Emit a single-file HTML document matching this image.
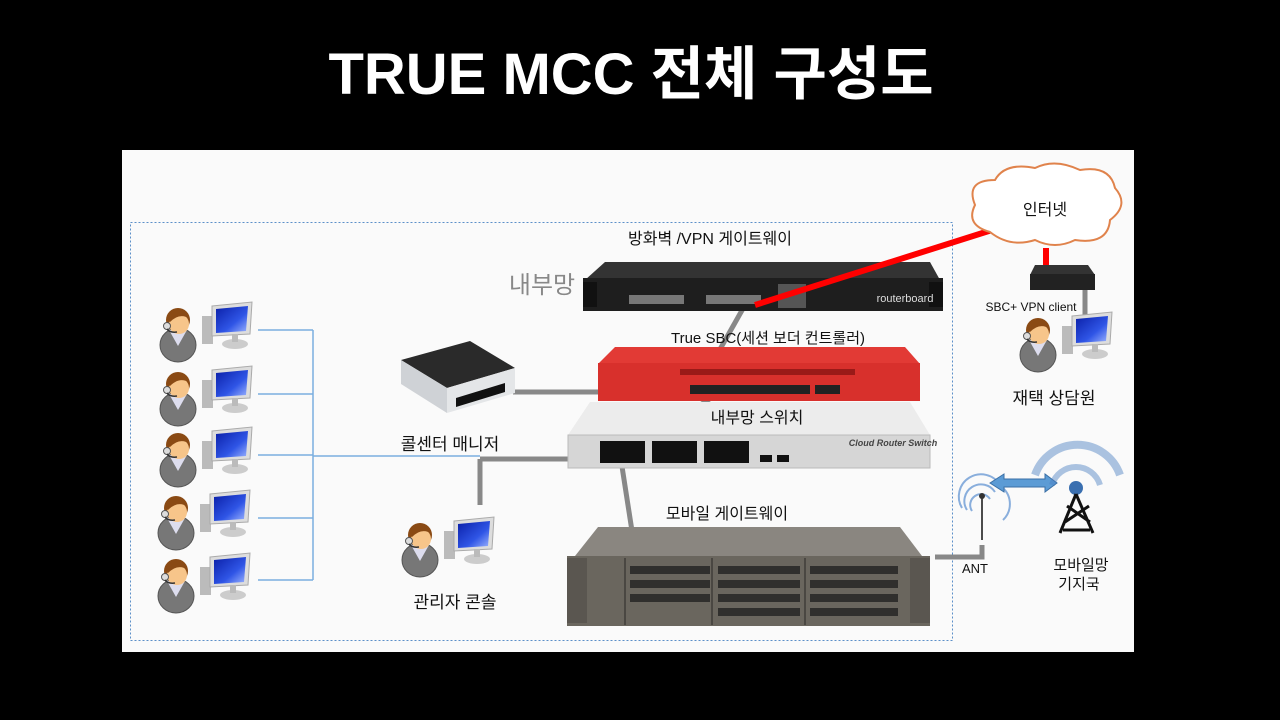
<!DOCTYPE html>
<html><head><meta charset="utf-8"><style>
html,body{margin:0;padding:0;background:#000;width:1280px;height:720px;overflow:hidden}
svg{display:block}
text{font-family:"Liberation Sans","Noto Sans CJK KR",sans-serif}
</style></head><body>
<svg width="1280" height="720" viewBox="0 0 1280 720" xmlns="http://www.w3.org/2000/svg">
<defs>
<linearGradient id="scr" x1="0" y1="0" x2="1" y2="1"><stop offset="0" stop-color="#0a1fa8"/><stop offset="0.6" stop-color="#2f55e6"/><stop offset="1" stop-color="#9fb6ff"/></linearGradient>
<g id="agent">
 <ellipse cx="18" cy="35" rx="18" ry="17" fill="#777" stroke="#555"/>
 <path d="M9 20 L18 36 L27 20 Z" fill="#dde" />
 <circle cx="18" cy="10" r="12" fill="#8a4a14"/>
 <ellipse cx="19" cy="14" rx="10" ry="10" fill="#f7c58a"/>
 <path d="M7 10 Q18 -5 30 9 Q20 2 10 12Z" fill="#8a4a14"/>
 <circle cx="7" cy="16" r="3.5" fill="#ddd" stroke="#555"/>
 <path d="M7 19 Q10 23 17 22" stroke="#333" stroke-width="1.5" fill="none"/>
 <g transform="translate(42,-6)">
  <rect x="0" y="12" width="11" height="28" fill="#bbb"/>
  <path d="M10 2 L50 -2 L48 30 L10 32 Z" fill="#ddd" stroke="#aaa"/>
  <path d="M14 5 L46 2 L44 27 L14 29 Z" fill="url(#scr)"/>
  <ellipse cx="33" cy="40" rx="13" ry="5" fill="#ccc"/>
  <rect x="30" y="30" width="6" height="8" fill="#bbb"/>
 </g>
</g>
</defs>
<rect x="0" y="0" width="1280" height="720" fill="#000"/>
<text x="631" y="94" font-size="58" font-weight="bold" fill="#fff" text-anchor="middle" font-family="'Noto Sans CJK KR','Liberation Sans',sans-serif">TRUE MCC 전체 구성도</text>
<rect x="122" y="150" width="1012" height="502" fill="#fafafa"/>
<rect x="130.5" y="222.5" width="822" height="418" fill="none" stroke="#5b8fc8" stroke-width="1" stroke-dasharray="2,2"/>

<g stroke="#7aaee0" stroke-width="1.5" fill="none">
<path d="M258 330 H313 M258 394 H313 M258 455 H313 M258 518 H313 M258 580 H313 M313 330 V580 M313 456 H480"/>
</g>
<g stroke="#888" stroke-width="5" fill="none">
<path d="M480 459 H590 M480 459 V505"/>
<path d="M513 392 H600"/>
<path d="M745 305 L697 390"/>
<path d="M726 388 L640 445"/>
<path d="M621 460 L645 615"/>
<path d="M935 557 H982 V545"/>
<path d="M1085 290 V328"/>
</g>

<use href="#agent" x="160" y="310"/>
<use href="#agent" x="160" y="374"/>
<use href="#agent" x="160" y="435"/>
<use href="#agent" x="158" y="498"/>
<use href="#agent" x="158" y="561"/>
<use href="#agent" x="402" y="525"/>
<use href="#agent" x="1020" y="320"/>

<!-- NUC -->
<path d="M401 360 L470 341 L515 368 L447 388 Z" fill="#2a2a2a"/>
<path d="M401 360 L447 388 L447 413 L401 384 Z" fill="#cfd2d6"/>
<path d="M447 388 L515 368 L515 393 L447 413 Z" fill="#e4e6e8"/>
<path d="M456 398 L505 383 L505 392 L456 407 Z" fill="#111"/>
<text x="450" y="450" font-size="17" fill="#111" text-anchor="middle">콜센터 매니저</text>
<text x="455" y="608" font-size="17" fill="#111" text-anchor="middle">관리자 콘솔</text>

<text x="710" y="244" font-size="16" fill="#111" text-anchor="middle">방화벽 /VPN  게이트웨이</text>
<text x="542" y="293" font-size="24" fill="#888" text-anchor="middle">내부망</text>
<path d="M605 262 L930 262 L940 280 L585 280 Z" fill="#333"/>
<rect x="583" y="278" width="360" height="33" fill="#1e1e1e"/>
<rect x="583" y="282" width="14" height="25" fill="#111"/>
<rect x="929" y="282" width="14" height="25" fill="#111"/>
<rect x="629" y="295" width="55" height="9" fill="#777"/>
<rect x="706" y="295" width="55" height="9" fill="#777"/>
<rect x="778" y="284" width="28" height="24" fill="#555"/>
<text x="905" y="302" font-size="11" fill="#ddd" text-anchor="middle">routerboard</text>

<text x="768" y="343" font-size="15" fill="#111" text-anchor="middle">True SBC(세션 보더 컨트롤러)</text>
<path d="M615 347 L905 347 L920 364 L598 364 Z" fill="#e23a35"/>
<rect x="598" y="363" width="322" height="38" fill="#d8302c"/>
<g fill="#222"><rect x="690" y="385" width="120" height="9"/><rect x="815" y="385" width="25" height="9"/></g>
<rect x="680" y="369" width="175" height="6" fill="#9a1a18"/>

<path d="M590 402 L910 402 L930 435 L568 435 Z" fill="#ececec"/>
<rect x="568" y="435" width="362" height="33" fill="#d6d6d6" stroke="#bbb"/>
<text x="757" y="423" font-size="16" fill="#111" text-anchor="middle">내부망 스위치</text>
<g fill="#111"><rect x="600" y="441" width="45" height="22"/><rect x="652" y="441" width="45" height="22"/><rect x="704" y="441" width="45" height="22"/><rect x="760" y="455" width="12" height="7"/><rect x="777" y="455" width="12" height="7"/></g>
<text x="893" y="446" font-size="9" font-style="italic" font-weight="bold" fill="#444" text-anchor="middle">Cloud Router Switch</text>

<text x="727" y="519" font-size="16" fill="#111" text-anchor="middle">모바일 게이트웨이</text>
<path d="M598 527 L900 527 L922 556 L575 556 Z" fill="#8a8680"/>
<rect x="567" y="556" width="363" height="70" fill="#6a665e"/>
<rect x="567" y="558" width="20" height="65" fill="#5a5650"/>
<rect x="910" y="558" width="20" height="65" fill="#5a5650"/>
<g stroke="#2a2825" stroke-width="1"><path d="M625 558 V625 M712 558 V625 M805 558 V625"/></g>
<g fill="#222" opacity="0.8">
<rect x="630" y="566" width="80" height="8"/><rect x="630" y="580" width="80" height="8"/><rect x="630" y="594" width="80" height="8"/>
<rect x="718" y="566" width="82" height="8"/><rect x="718" y="580" width="82" height="8"/><rect x="718" y="594" width="82" height="8"/><rect x="718" y="608" width="82" height="8"/>
<rect x="810" y="566" width="88" height="8"/><rect x="810" y="580" width="88" height="8"/><rect x="810" y="594" width="88" height="8"/><rect x="810" y="608" width="88" height="8"/>
</g>

<path d="M755 305 L992 230" stroke="#ff0000" stroke-width="6"/>
<path d="M1046 248 V285" stroke="#ff0000" stroke-width="6"/>

<path d="M990 232 Q965 225 975 205 Q965 180 995 180 Q1005 162 1035 168 Q1055 158 1080 170 Q1110 165 1115 188 Q1130 205 1110 220 Q1108 245 1075 240 Q1055 250 1035 240 Q1010 248 990 232 Z" fill="#fff" stroke="#e0834c" stroke-width="2"/>
<text x="1045" y="215" font-size="16" fill="#111" text-anchor="middle">인터넷</text>

<path d="M1035 265 L1088 265 L1095 275 L1030 275 Z" fill="#333"/>
<rect x="1030" y="274" width="65" height="16" fill="#222"/>
<text x="1031" y="311" font-size="12" fill="#111" text-anchor="middle">SBC+ VPN client</text>
<text x="1054" y="404" font-size="17" fill="#111" text-anchor="middle">재택 상담원</text>

<g fill="none" stroke="#5a8fd0" stroke-width="2" opacity="0.7">
<path d="M962 508 A22 22 0 0 1 1000 485"/><path d="M967 510 A16 16 0 0 1 995 492"/><path d="M972 511 A10 10 0 0 1 990 499"/>
<path d="M1003 488 A22 22 0 0 1 1003 520"/>
</g>
<path d="M982 497 V540" stroke="#111" stroke-width="1.5"/>
<circle cx="982" cy="496" r="3" fill="#333"/>
<text x="975" y="573" font-size="13" fill="#111" text-anchor="middle">ANT</text>
<path d="M990 483 L1004 474 V479 H1045 V474 L1057 483 L1045 492 V487 H1004 V492 Z" fill="#5b9bd5" stroke="#3a6fa5"/>
<path d="M1035 475 A45 45 0 0 1 1120 475" fill="none" stroke="#4a7fc0" stroke-width="8" opacity="0.45"/>
<path d="M1052 485 A25 25 0 0 1 1100 485" fill="none" stroke="#4a7fc0" stroke-width="6" opacity="0.45"/>
<circle cx="1076" cy="488" r="7" fill="#3a6fb0"/>
<path d="M1076 494 L1060 533 M1076 494 L1093 533 M1065 522 L1089 506 M1067 506 L1090 522 M1063 530 H1090" stroke="#111" stroke-width="3" fill="none"/>
<text x="1081" y="570" font-size="15" fill="#111" text-anchor="middle">모바일망</text>
<text x="1079" y="589" font-size="15" fill="#111" text-anchor="middle">기지국</text>
</svg>
</body></html>
